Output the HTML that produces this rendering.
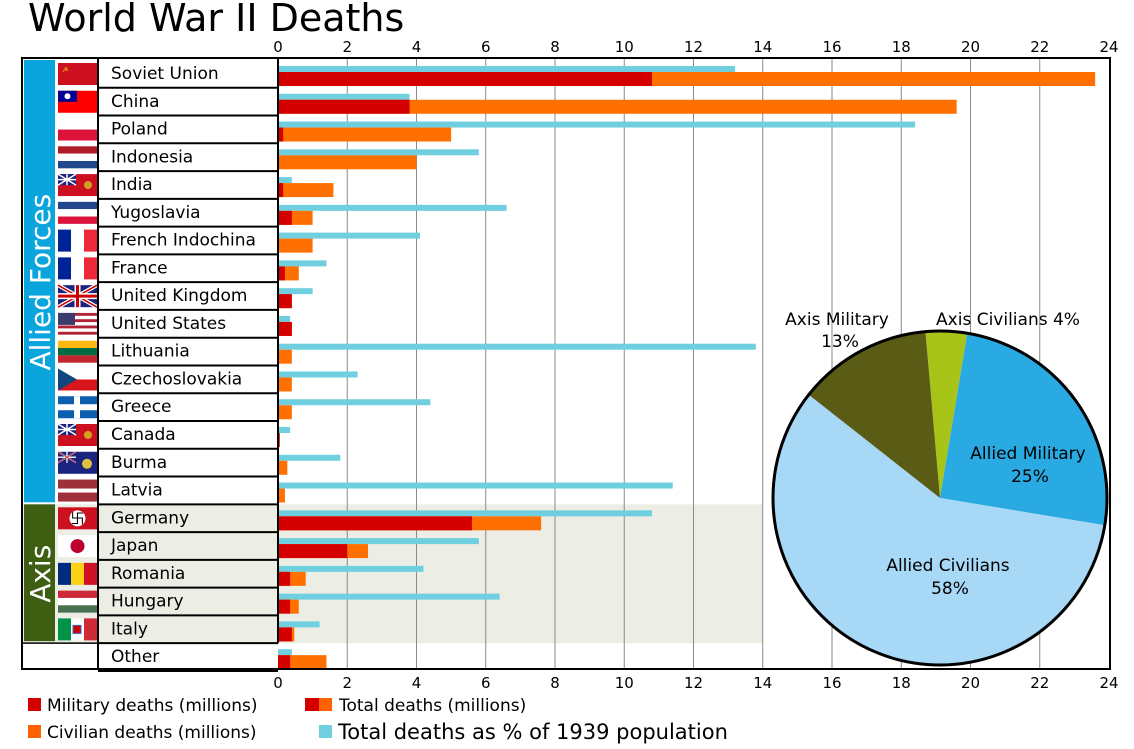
<!DOCTYPE html>
<html><head><meta charset="utf-8"><style>
html,body{margin:0;padding:0;background:#fff;}
svg{display:block;font-family:"DejaVu Sans","Liberation Sans",sans-serif;}
</style></head><body>
<svg id="s" width="1134" height="749" viewBox="0 0 1134 749" xmlns="http://www.w3.org/2000/svg">
<text x="28" y="31" font-size="38" fill="#000">World War II Deaths</text>
</svg>
<script>
const S=document.getElementById('s');let h='';
const X0=278,U=34.625,T=60,RH=27.77;
const rows=[
["Soviet Union",13.2,10.8,23.6],["China",3.8,3.8,19.6],["Poland",18.4,0.15,5.0],["Indonesia",5.8,0,4.0],
["India",0.4,0.15,1.6],["Yugoslavia",6.6,0.4,1.0],["French Indochina",4.1,0,1.0],["France",1.4,0.2,0.6],
["United Kingdom",1.0,0.4,0.4],["United States",0.35,0.4,0.4],["Lithuania",13.8,0,0.4],["Czechoslovakia",2.3,0,0.4],
["Greece",4.4,0,0.4],["Canada",0.35,0.05,0.05],["Burma",1.8,0,0.27],["Latvia",11.4,0,0.2],
["Germany",10.8,5.6,7.6],["Japan",5.8,2.0,2.6],["Romania",4.2,0.35,0.8],["Hungary",6.4,0.35,0.6],
["Italy",1.2,0.4,0.47],["Other",0.4,0.35,1.4]];
h+=`<rect x="22" y="${T+16*RH}" width="${X0+14*U-22}" height="${5*RH}" fill="#ecede5"/>`;
for(let v=2;v<=22;v+=2){const x=X0+v*U;h+=`<line x1="${x}" y1="58" x2="${x}" y2="669" stroke="#8a8a8a" stroke-width="1"/>`;}
for(let v=0;v<=24;v+=2){const x=X0+v*U;h+=`<text x="${x}" y="52" font-size="15" text-anchor="middle">${v}</text><text x="${x}" y="688" font-size="15" text-anchor="middle">${v}</text>`;}
rows.forEach((r,i)=>{const t=T+i*RH;
h+=`<rect x="${X0}" y="${t+6}" width="${r[1]*U}" height="6" fill="#6fcfdf"/>`;
h+=`<rect x="${X0}" y="${t+12}" width="${r[3]*U}" height="14" fill="#ff7000"/>`;
h+=`<rect x="${X0}" y="${t+12}" width="${r[2]*U}" height="14" fill="#d40000"/>`;
h+=`<text x="111" y="${t+19}" font-size="17">${r[0]}</text>`;
h+=`<line x1="98" y1="${t+RH}" x2="278" y2="${t+RH}" stroke="#000" stroke-width="2"/>`;
});
h+=`<rect x="24" y="60" width="31" height="${16*RH-2}" fill="#0aa5dd"/>`;
h+=`<text transform="translate(50,${60+8*RH}) rotate(-90)" font-size="28" fill="#fff" text-anchor="middle">Allied Forces</text>`;
h+=`<rect x="24" y="${T+16*RH}" width="31" height="${5*RH-2}" fill="#3e5e12"/>`;
h+=`<text transform="translate(50,${T+18.5*RH}) rotate(-90)" font-size="28" fill="#fff" text-anchor="middle">Axis</text>`;
const F=(i,body)=>{const t=T+i*RH+3;h+=`<g transform="translate(58,${t})">${body}</g>`;};
const W=39,H=22;
const hs=(a,b,c)=>`<rect width="${W}" height="${H/3}" fill="${a}"/><rect y="${H/3}" width="${W}" height="${H/3}" fill="${b}"/><rect y="${2*H/3}" width="${W}" height="${H/3}" fill="${c}"/>`;
const vs=(a,b,c)=>`<rect width="${W/3}" height="${H}" fill="${a}"/><rect x="${W/3}" width="${W/3}" height="${H}" fill="${b}"/><rect x="${2*W/3}" width="${W/3}" height="${H}" fill="${c}"/>`;
const red=`<rect width="${W}" height="${H}" fill="#cc1020"/>`;
const uk=`<rect width="${W}" height="${H}" fill="#1a237e"/><path d="M0 0L${W} ${H}M${W} 0L0 ${H}" stroke="#fff" stroke-width="4"/><path d="M0 0L${W} ${H}M${W} 0L0 ${H}" stroke="#c00" stroke-width="1.5"/><path d="M${W/2} 0V${H}M0 ${H/2}H${W}" stroke="#fff" stroke-width="6"/><path d="M${W/2} 0V${H}M0 ${H/2}H${W}" stroke="#c00" stroke-width="3"/>`;
const ens=`<rect width="${W}" height="${H}" fill="#cc1020"/><rect width="18" height="11" fill="#1a237e"/><path d="M0 0L18 11M18 0L0 11M9 0V11M0 5.5H18" stroke="#fff" stroke-width="1.5"/><circle cx="30" cy="11" r="4" fill="#d4a020"/>`;
F(0,red+`<text x="4" y="9" font-size="7" fill="#fc0">☭</text>`);
F(1,`<rect width="${W}" height="${H}" fill="#fe0000"/><rect width="19" height="11" fill="#000095"/><circle cx="9.5" cy="5.5" r="3" fill="#fff"/>`);
F(2,`<rect width="${W}" height="${H/2}" fill="#fff"/><rect y="${H/2}" width="${W}" height="${H/2}" fill="#dc143c"/>`);
F(3,hs("#ae1c28","#fff","#21468b"));
F(4,ens);
F(5,hs("#21468b","#fff","#dc143c"));
F(6,vs("#002395","#fff","#ed2939"));
F(7,vs("#002395","#fff","#ed2939"));
F(8,uk);
F(9,`<rect width="${W}" height="${H}" fill="#fff"/>`+[0,2,4,6].map(k=>`<rect y="${k*H/7}" width="${W}" height="${H/13*1.7}" fill="#b22234"/>`).join('')+`<rect width="17" height="12" fill="#3c3b6e"/>`);
F(10,hs("#fdb913","#006a44","#c1272d"));
F(11,`<rect width="${W}" height="${H/2}" fill="#fff"/><rect y="${H/2}" width="${W}" height="${H/2}" fill="#d7141a"/><path d="M0 0L19 11L0 22Z" fill="#11457e"/>`);
F(12,`<rect width="${W}" height="${H}" fill="#0d5eaf"/><rect x="0" y="8" width="${W}" height="6" fill="#fff"/><rect x="16" y="0" width="6" height="${H}" fill="#fff"/>`);
F(13,ens);
F(14,`<rect width="${W}" height="${H}" fill="#1a237e"/><path d="M0 0L18 11M18 0L0 11M9 0V11M0 5.5H18" stroke="#fff" stroke-width="1.5" stroke-opacity=".9"/><path d="M0 0L18 11M18 0L0 11" stroke="#c00" stroke-width=".7"/><circle cx="29" cy="12" r="5" fill="#e0c040"/>`);
F(15,`<rect width="${W}" height="${H}" fill="#9e3039"/><rect y="9" width="${W}" height="4" fill="#fff"/>`);
F(16,red+`<circle cx="19.5" cy="11" r="8" fill="#fff"/><text x="19.5" y="16" font-size="14" text-anchor="middle">卐</text>`);
F(17,`<rect width="${W}" height="${H}" fill="#fff"/><circle cx="19.5" cy="11" r="7" fill="#bc002d"/>`);
F(18,vs("#002b7f","#fcd116","#ce1126"));
F(19,hs("#ce2939","#fff","#477050"));
F(20,vs("#009246","#fff","#ce2b37")+`<rect x="15" y="7" width="8" height="8" fill="#c00" stroke="#36c"/>`);
h+=`<rect x="22" y="58" width="1088" height="611" fill="none" stroke="#000" stroke-width="2"/>`;
h+=`<line x1="98" y1="58" x2="98" y2="669" stroke="#000" stroke-width="2"/>`;
h+=`<line x1="278" y1="58" x2="278" y2="${T+21*RH}" stroke="#000" stroke-width="2"/>`;
h+=`<line x1="22" y1="${T+21*RH}" x2="98" y2="${T+21*RH}" stroke="#000" stroke-width="1.5"/>`;
const cx=940,cy=498,R=167;
const pt=a=>{const r=a*Math.PI/180;return [cx+R*Math.sin(r),cy-R*Math.cos(r)];};
const sl=(a1,a2,c)=>{const p=pt(a1),q=pt(a2),l=(a2-a1)>180?1:0;h+=`<path d="M${cx} ${cy}L${p[0]} ${p[1]}A${R} ${R} 0 ${l} 1 ${q[0]} ${q[1]}Z" fill="${c}"/>`;};
sl(-5,9.4,"#a8c418");sl(9.4,99.4,"#2aaae2");sl(99.4,308.2,"#a7d8f6");sl(308.2,355,"#5a5c16");
h+=`<circle cx="${cx}" cy="${cy}" r="${R}" fill="none" stroke="#000" stroke-width="3"/>`;
h+=`<text x="837" y="325" font-size="17" text-anchor="middle">Axis Military</text><text x="840" y="347" font-size="17" text-anchor="middle">13%</text>`;
h+=`<text x="1008" y="325" font-size="17" text-anchor="middle">Axis Civilians 4%</text>`;
h+=`<text x="1028" y="459" font-size="17" text-anchor="middle">Allied Military</text><text x="1030" y="482" font-size="17" text-anchor="middle">25%</text>`;
h+=`<text x="948" y="571" font-size="17" text-anchor="middle">Allied Civilians</text><text x="950" y="594" font-size="17" text-anchor="middle">58%</text>`;
h+=`<rect x="28" y="698" width="13" height="13" fill="#d40000"/><text x="47" y="711" font-size="17">Military deaths (millions)</text>`;
h+=`<rect x="305" y="698" width="14" height="13" fill="#d40000"/><rect x="319" y="698" width="13" height="13" fill="#ff6000"/><text x="339" y="711" font-size="17">Total deaths (millions)</text>`;
h+=`<rect x="28" y="725" width="13" height="13" fill="#ff6000"/><text x="47" y="738" font-size="17">Civilian deaths (millions)</text>`;
h+=`<rect x="319" y="725" width="13" height="13" fill="#6fcfdf"/><text x="338" y="739" font-size="21">Total deaths as % of 1939 population</text>`;
S.insertAdjacentHTML('beforeend',h);
</script>
</body></html>
